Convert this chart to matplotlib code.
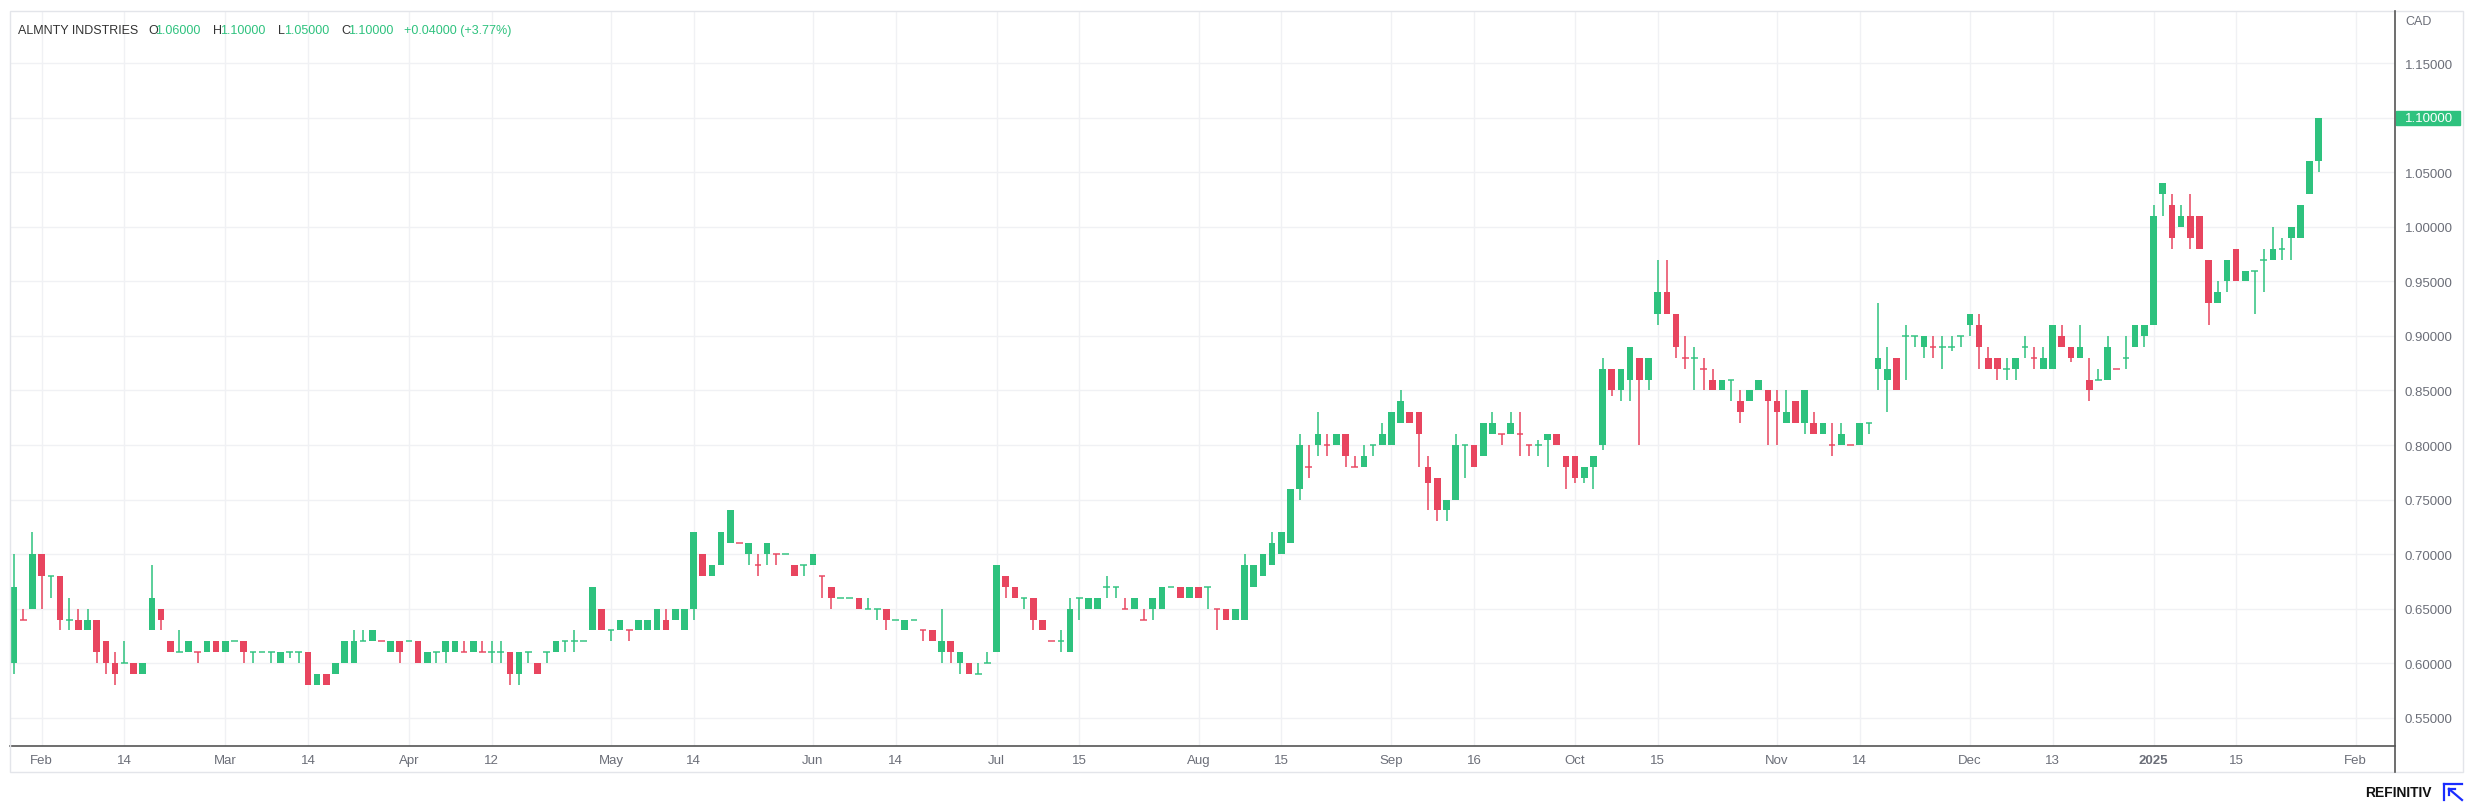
import matplotlib
matplotlib.use("Agg")
import matplotlib.pyplot as plt
import matplotlib.transforms as mtransforms
from matplotlib.patches import Rectangle
from matplotlib.lines import Line2D
import pandas as pd

# TSX trading calendar (exchange holidays are skipped on the x axis)
holidays = ['2024-02-19', '2024-03-29', '2024-05-20', '2024-07-01', '2024-08-05',
            '2024-09-02', '2024-10-14', '2024-12-25', '2024-12-26', '2025-01-01']
first_day = '2024-01-29'
last_day = '2025-01-28'

# daily OHLC, CAD, one line per month
opens = [
    .60, .64, .65,
    .70, .68, .68, .64, .64, .63, .64, .62, .60, .60, .60, .59, .63, .65, .62, .61, .61, .61, .61, .62,
    .61, .62, .62, .61, .61, .61, .60, .61, .61, .61, .58, .59, .59, .60, .60, .62, .62, .62, .61, .62,
    .62, .62, .60, .61, .61, .61, .61, .61, .61, .61, .61, .61, .59, .61, .60, .61, .61, .62, .62, .62, .63, .65,
    .63, .63, .63, .63, .63, .63, .64, .64, .63, .65, .70, .68, .69, .71, .71, .70, .69, .70, .70, .70, .69, .69,
    .69, .68, .67, .66, .66, .66, .65, .65, .65, .64, .63, .64, .63, .63, .61, .62, .60, .60, .59, .60,
    .61, .68, .67, .66, .66, .64, .62, .62, .61, .66, .65, .65, .67, .67, .65, .65, .64, .65, .65, .67, .67, .66,
    .67, .67, .65, .65, .64, .64, .67, .68, .69, .70, .71, .76, .78, .80, .80, .80, .81, .78, .78, .80, .80,
    .80, .82, .83, .83, .78, .77, .74, .75, .80, .80, .79, .81, .81, .81, .81, .80, .80, .805, .81, .79,
    .79, .77, .78, .80, .87, .85, .86, .88, .86, .92, .94, .92, .88, .88, .87, .86, .85, .86, .84, .84, .85, .85,
    .84, .82, .84, .82, .82, .81, .80, .80, .80, .80, .82, .87, .86, .88, .90, .90, .89, .89, .89, .89, .90,
    .91, .91, .88, .88, .87, .87, .89, .88, .87, .87, .90, .89, .88, .86, .86, .86, .87, .88, .89, .90,
    .91, 1.03, 1.02, 1.00, 1.01, 1.01, .97, .93, .95, .98, .95, .96, .97, .97, .98, .99, .99, 1.03, 1.06,
]
highs = [
    .70, .65, .72,
    .70, .68, .68, .66, .65, .65, .64, .62, .61, .62, .60, .60, .69, .65, .62, .63, .62, .61, .62, .62,
    .62, .62, .62, .61, .61, .61, .61, .61, .61, .61, .59, .59, .60, .62, .63, .63, .63, .62, .62, .62,
    .62, .62, .61, .61, .62, .62, .62, .62, .62, .62, .62, .61, .61, .61, .60, .61, .62, .62, .63, .62, .67, .65,
    .63, .64, .63, .64, .64, .65, .65, .65, .65, .72, .70, .69, .72, .74, .71, .71, .70, .71, .70, .70, .69, .69,
    .70, .68, .67, .66, .66, .66, .66, .65, .65, .64, .64, .64, .63, .63, .65, .62, .61, .60, .60, .61,
    .69, .68, .67, .66, .66, .64, .62, .63, .66, .66, .66, .66, .68, .67, .66, .66, .65, .66, .67, .67, .67, .67,
    .67, .67, .65, .65, .65, .70, .69, .70, .72, .72, .76, .81, .80, .83, .81, .81, .81, .79, .80, .80, .82,
    .83, .85, .83, .83, .79, .77, .75, .81, .80, .80, .82, .83, .81, .83, .83, .80, .805, .81, .81, .79,
    .79, .78, .79, .88, .87, .87, .89, .88, .88, .97, .97, .92, .90, .89, .88, .87, .86, .86, .85, .85, .86, .85,
    .85, .85, .84, .85, .83, .82, .82, .82, .80, .82, .82, .93, .89, .88, .91, .90, .90, .90, .90, .90, .90,
    .92, .92, .89, .88, .88, .88, .90, .89, .89, .91, .91, .89, .91, .88, .87, .90, .87, .90, .91, .91,
    1.02, 1.04, 1.03, 1.02, 1.03, 1.01, .97, .95, .97, .98, .96, .96, .98, 1.00, .99, 1.00, 1.02, 1.06, 1.10,
]
lows = [
    .59, .64, .65,
    .65, .66, .63, .63, .63, .63, .60, .59, .58, .60, .59, .59, .63, .63, .61, .61, .61, .60, .61, .61,
    .61, .62, .60, .60, .61, .60, .60, .605, .60, .58, .58, .58, .59, .60, .60, .62, .62, .62, .61, .60,
    .62, .60, .60, .60, .60, .61, .61, .61, .61, .60, .60, .58, .58, .60, .59, .60, .61, .61, .61, .62, .63, .63,
    .62, .63, .62, .63, .63, .63, .63, .64, .63, .64, .68, .68, .69, .71, .71, .69, .68, .69, .69, .70, .68, .68,
    .69, .66, .65, .66, .66, .65, .65, .64, .63, .64, .63, .64, .62, .62, .60, .60, .59, .59, .59, .60,
    .61, .66, .66, .65, .63, .63, .62, .61, .61, .64, .65, .65, .66, .66, .65, .65, .64, .64, .65, .67, .66, .66,
    .66, .65, .63, .64, .64, .64, .67, .68, .69, .70, .71, .75, .77, .79, .79, .80, .78, .78, .78, .79, .80,
    .80, .82, .82, .78, .74, .73, .73, .75, .77, .78, .79, .81, .80, .81, .79, .79, .79, .78, .80, .76,
    .765, .765, .76, .795, .845, .84, .84, .80, .85, .91, .92, .88, .87, .85, .85, .85, .85, .84, .82, .84, .85, .80,
    .80, .82, .82, .81, .81, .81, .79, .80, .80, .80, .81, .85, .83, .85, .86, .89, .88, .88, .87, .886, .89,
    .90, .87, .87, .86, .86, .86, .88, .87, .87, .87, .89, .876, .88, .84, .86, .86, .87, .87, .89, .89,
    .91, 1.01, .98, 1.00, .98, .98, .91, .93, .94, .95, .95, .92, .94, .97, .97, .97, .99, 1.03, 1.05,
]
closes = [
    .67, .64, .70,
    .68, .68, .64, .64, .63, .64, .61, .60, .59, .60, .59, .60, .66, .64, .61, .61, .62, .61, .62, .61,
    .62, .62, .61, .61, .61, .61, .61, .61, .61, .58, .59, .58, .60, .62, .62, .62, .63, .62, .62, .61,
    .62, .60, .61, .61, .62, .62, .61, .62, .61, .61, .61, .59, .61, .61, .59, .61, .62, .62, .62, .62, .67, .63,
    .63, .64, .63, .64, .64, .65, .63, .65, .65, .72, .68, .69, .72, .74, .71, .71, .69, .71, .70, .70, .68, .69,
    .70, .68, .66, .66, .66, .65, .65, .65, .64, .64, .64, .64, .63, .62, .62, .61, .61, .59, .59, .60,
    .69, .67, .66, .66, .64, .63, .62, .62, .65, .66, .66, .66, .67, .67, .65, .66, .64, .66, .67, .67, .66, .67,
    .66, .67, .65, .64, .65, .69, .69, .70, .71, .72, .76, .80, .78, .81, .80, .81, .79, .78, .79, .80, .81,
    .83, .84, .82, .81, .765, .74, .75, .80, .80, .78, .82, .82, .81, .82, .81, .80, .80, .81, .80, .78,
    .77, .78, .79, .87, .85, .87, .89, .86, .88, .94, .92, .89, .88, .88, .87, .85, .86, .86, .83, .85, .86, .84,
    .83, .83, .82, .85, .81, .82, .80, .81, .80, .82, .82, .88, .87, .85, .90, .90, .90, .89, .89, .89, .90,
    .92, .89, .87, .87, .87, .88, .89, .88, .88, .91, .89, .88, .89, .85, .86, .89, .87, .88, .91, .91,
    1.01, 1.04, .99, 1.01, .99, .98, .93, .94, .97, .95, .96, .96, .97, .98, .98, 1.00, 1.02, 1.06, 1.10,
]

tick_dates = ['2024-02-01', '2024-02-14', '2024-03-01', '2024-03-14', '2024-04-01', '2024-04-12',
              '2024-05-01', '2024-05-14', '2024-06-03', '2024-06-14', '2024-07-02', '2024-07-15',
              '2024-08-01', '2024-08-15', '2024-09-03', '2024-09-16', '2024-10-01', '2024-10-15',
              '2024-11-01', '2024-11-14', '2024-12-02', '2024-12-13', '2025-01-02', '2025-01-15',
              '2025-02-03']
tick_labels = ['Feb', '14', 'Mar', '14', 'Apr', '12', 'May', '14', 'Jun', '14', 'Jul', '15',
               'Aug', '15', 'Sep', '16', 'Oct', '15', 'Nov', '14', 'Dec', '13', '2025', '15', 'Feb']
price_ticks = [0.55, 0.60, 0.65, 0.70, 0.75, 0.80, 0.85, 0.90, 0.95, 1.00, 1.05, 1.10, 1.15]

name = 'ALMNTY INDSTRIES'
currency = 'CAD'

GREEN = '#2ec27e'
RED = '#e8455f'
GRID = '#f0f1f4'
TEXT = '#6b6e78'
DARK = '#333333'

W, H = 2474, 803

plt.rcParams['font.family'] = ['Liberation Sans', 'DejaVu Sans']

days = pd.bdate_range(first_day, last_day, freq='C', holidays=holidays)
calendar = pd.bdate_range(first_day, '2025-02-14', freq='C', holidays=holidays)
n = len(days)
xs = list(range(n))


def fx(px):
    return px / W


def fy(py):
    return 1 - py / H


fig = plt.figure(figsize=(W / 100, H / 100), dpi=100)
fig.patch.set_facecolor('white')
ax = fig.add_axes([fx(10), fy(747), fx(2395 - 10), (747 - 12) / H])

# candles
body_x, body_h, body_b, body_c = [], [], [], []
doji_x, doji_y, doji_c = [], [], []
wick_c = []
for i in xs:
    o, c = opens[i], closes[i]
    if c > o:
        col = GREEN
    elif c < o:
        col = RED
    else:
        prev = closes[i - 1] if i > 0 else c
        col = RED if c < prev else GREEN
    wick_c.append(col)
    if o == c:
        doji_x.append(i)
        doji_y.append(o)
        doji_c.append(col)
    else:
        body_x.append(i)
        body_h.append(abs(c - o))
        body_b.append(min(o, c))
        body_c.append(col)

ax.vlines(xs, lows, highs, colors=wick_c, linewidth=1.1, zorder=3)
ax.bar(body_x, body_h, bottom=body_b, width=0.72, color=body_c, linewidth=0, zorder=4)
ax.hlines(doji_y, [x - 0.36 for x in doji_x], [x + 0.36 for x in doji_x],
          colors=doji_c, linewidth=1.4, alpha=0.75, zorder=4)

ax.set_xlim(-0.45, 259.3)
ax.set_ylim(0.524, 1.198)

tick_pos = [calendar.get_loc(pd.Timestamp(d)) for d in tick_dates]
ax.set_xticks(tick_pos)
ax.set_xticklabels(tick_labels)
for lbl, txt in zip(ax.get_xticklabels(), tick_labels):
    if txt == '2025':
        lbl.set_fontweight('bold')
        lbl.set_color(DARK)
ax.set_yticks(price_ticks)
ax.set_yticklabels([f'{p:.5f}' for p in price_ticks])
ax.yaxis.tick_right()
ax.tick_params(axis='x', length=0, pad=6, labelsize=9.5, labelcolor=TEXT)
ax.tick_params(axis='y', length=0, pad=7, labelsize=9.5, labelcolor=TEXT)
ax.grid(True, color=GRID, linewidth=1)
ax.set_axisbelow(True)
for s in ['top', 'left', 'right']:
    ax.spines[s].set_visible(False)
ax.spines['bottom'].set_color('#555555')
ax.spines['bottom'].set_linewidth(1.2)

# outer frame and price axis line
fig.add_artist(Rectangle((fx(10), fy(773)), fx(2463 - 10), (773 - 12) / H, fill=False,
                         edgecolor='#e3e5ea', linewidth=1, transform=fig.transFigure))
fig.add_artist(Line2D([fx(2395), fx(2395)], [fy(12), fy(773)], color='#555555',
                      linewidth=1.2, transform=fig.transFigure))

fig.text(fx(2405), fy(22), currency, fontsize=9, color=TEXT, va='center', ha='left')

# last price marker on the price axis
trans = mtransforms.blended_transform_factory(ax.transAxes, ax.transData)
last = closes[-1]
ax.add_patch(Rectangle((1.0003, last - 0.0062), (2459 - 2395) / (2395 - 10), 0.0124,
                       transform=trans, color=GREEN, clip_on=False, zorder=5))
ax.text(1.0 + 10 / (2395 - 10), last, f'{last:.5f}', transform=trans, color='white',
        fontsize=9.5, va='center', ha='left', zorder=6)

# header
ty = fy(31)
chg = closes[-1] - closes[-2]
pct = chg / closes[-2] * 100
fig.text(fx(18), ty, name, fontsize=9, color=DARK, va='center')
parts = [(148, 'O', opens[-1]), (213, 'H', highs[-1]), (278, 'L', lows[-1]), (341, 'C', closes[-1])]
for px, letter, val in parts:
    fig.text(fx(px), ty, letter, fontsize=9, color=DARK, va='center')
    fig.text(fx(px + (7 if letter in 'OHC' else 6)), ty, f'{val:.5f}', fontsize=9,
             color=GREEN, va='center')
fig.text(fx(404), ty, f'{chg:+.5f} ({pct:+.2f}%)', fontsize=9, color=GREEN, va='center')

# footer brand
fig.text(fx(2432), fy(793), 'REFINITIV', fontsize=10, fontweight='bold', color='#111111',
         ha='right', va='center')
blue = '#1a2cff'
for (x0, y0), (x1, y1) in [((2444, 785), (2444, 801)), ((2444, 785), (2462, 785)),
                           ((2449, 790), (2462, 801)), ((2449, 790), (2449, 796)),
                           ((2449, 790), (2455, 790))]:
    fig.add_artist(Line2D([fx(x0), fx(x1)], [fy(y0), fy(y1)], color=blue, linewidth=1.6,
                          transform=fig.transFigure))

fig.savefig('out.png', dpi=100, facecolor='white')
